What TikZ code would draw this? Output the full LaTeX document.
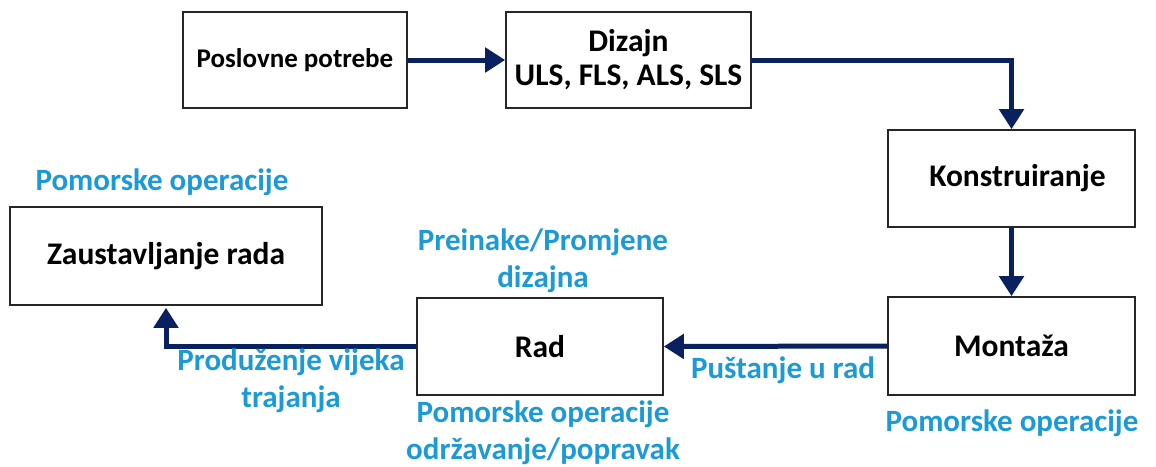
\documentclass[tikz,border=0pt]{standalone}
\usepackage{fontspec}
\setmainfont{Carlito}
\usetikzlibrary{arrows.meta}
\definecolor{navy}{HTML}{0A2160}
\definecolor{lblue}{HTML}{1C9AD6}
\begin{document}
\begin{tikzpicture}[x=1pt,y=-1pt,
 box/.style={draw=black!85, line width=1.6pt, inner sep=0pt, align=center, font=\bfseries\fontsize{31.5}{34}\selectfont},
 flow/.style={draw=navy, line width=5pt, -{Triangle[length=20pt,width=24pt]}},
 lbl/.style={text=lblue, inner sep=0pt, align=center, font=\bfseries\fontsize{31}{37}\selectfont}]
\useasboundingbox (0,0) rectangle (1156,466);
\node[box, minimum width=224pt, minimum height=96pt, font=\bfseries\fontsize{27}{32}\selectfont] (pp) at (295,60) {Poslovne potrebe};
\node[box, minimum width=245pt, minimum height=96pt] (diz) at (628.5,60) {Dizajn\\ULS, FLS, ALS, SLS};
\node[box, minimum width=247pt, minimum height=97pt] (kon) at (1011.5,178.5) {\hspace*{12pt}Konstruiranje};
\node[box, minimum width=247pt, minimum height=98pt] (mon) at (1011.5,346) {Montaža};
\node[box, minimum width=246pt, minimum height=97pt] (rad) at (540,346.5) {Rad};
\node[box, minimum width=312pt, minimum height=98pt] (zau) at (166,256) {Zaustavljanje rada};
\draw[flow] (pp.east) -- (diz.west);
\draw[flow] (diz.east) -| (kon.north);
\draw[flow] (kon.south) -- (mon.north);
\draw[flow] (mon.west) -- (rad.east);
\draw[flow, shorten >=2pt] (rad.west) -| (zau.south);
\node[lbl] (l1) at (162,182) {Pomorske operacije};
\node[lbl] (l2) at (543,261) {Preinake/Promjene\\dizajna};
\node[lbl] (l3) at (291,381) {Produženje vijeka\\trajanja};
\node[lbl] (l4) at (543,433) {Pomorske operacije\\održavanje/popravak};
\node[lbl] (l5) at (783,370) {Puštanje u rad};
\node[lbl] (l6) at (1012,423) {Pomorske operacije};
\end{tikzpicture}
\end{document}
